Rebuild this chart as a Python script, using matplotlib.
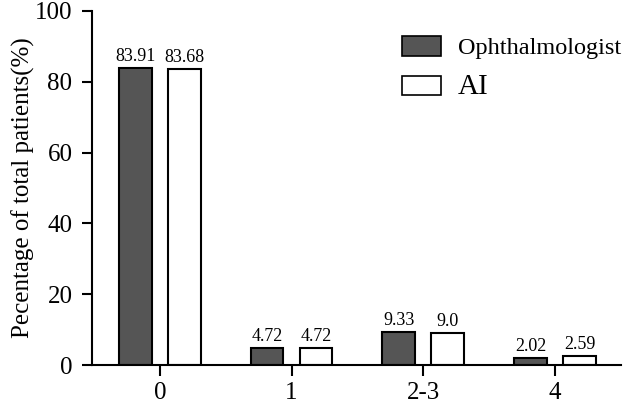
import matplotlib
matplotlib.use("Agg")
import matplotlib.pyplot as plt
import numpy as np
from matplotlib.patches import Patch

categories = ["0", "1", "2-3", "4"]
ophthalmologist = [83.91, 4.72, 9.33, 2.02]
ai = [83.68, 4.72, 9.0, 2.59]
oph_labels = ["83.91", "4.72", "9.33", "2.02"]
ai_labels = ["83.68", "4.72", "9.0", "2.59"]

plt.rcParams['font.family'] = ['Liberation Serif', 'DejaVu Serif']

fig = plt.figure(figsize=(6.29, 4.04), dpi=100)
ax = fig.add_axes([0.146, 0.0965, 0.841, 0.8765])

x = np.arange(len(categories))
w = 0.25
off = 0.186
dark = '#555555'
ax.bar(x - off, ophthalmologist, w, color=dark, edgecolor='black', linewidth=1.5)
ax.bar(x + off, ai, w, color='white', edgecolor='black', linewidth=1.5)

for xi, v, t in zip(x - off, ophthalmologist, oph_labels):
    ax.text(xi, v + 0.8, t, ha='center', va='bottom', fontsize=13)
for xi, v, t in zip(x + off, ai, ai_labels):
    ax.text(xi, v + 0.8, t, ha='center', va='bottom', fontsize=13)

ax.set_xlim(-0.516, 3.5)
ax.set_ylim(0, 100)
ax.set_yticks([0, 20, 40, 60, 80, 100])
ax.set_xticks(x)
ax.set_xticklabels(categories)
ax.tick_params(axis='both', labelsize=18, width=1.5, direction='out')
ax.tick_params(axis='x', length=8, pad=4)
ax.tick_params(axis='y', length=7, pad=7)
for s in ['top', 'right']:
    ax.spines[s].set_visible(False)
for s in ['left', 'bottom']:
    ax.spines[s].set_linewidth(1.5)
ax.set_ylabel("Pecentage of total patients(%)", fontsize=18, labelpad=0)

handles = [Patch(facecolor=dark, edgecolor='black', linewidth=1.2),
           Patch(facecolor='white', edgecolor='black', linewidth=1.2)]
leg = ax.legend(handles, ["Ophthalmologist", "AI"], loc='upper right', frameon=False,
                fontsize=17.5, handlelength=1.6, handleheight=0.85, labelspacing=0.6,
                handletextpad=0.7, bbox_to_anchor=(1.042, 0.99))
leg.get_texts()[1].set_fontsize(21)

fig.savefig("out.png", dpi=100)
